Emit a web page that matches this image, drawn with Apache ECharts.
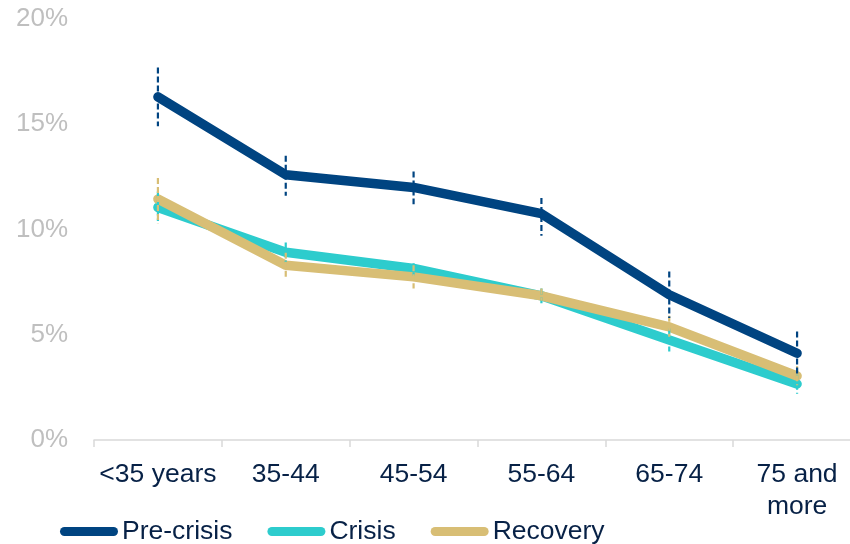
<!DOCTYPE html>
<html>
<head>
<meta charset="utf-8">
<script src="https://cdn.jsdelivr.net/npm/echarts@6/dist/echarts.min.js"></script>
<style>
html,body{margin:0;padding:0;background:#fff;overflow:hidden;width:850px;height:544px;}
#chart{width:861px;height:544px;}
</style>
</head>
<body>
<div id="chart"></div>
<script>
var categories = ['<35 years', '35-44', '45-54', '55-64', '65-74', '75 and\nmore'];
var yTicks = [0, 5, 10, 15, 20];

var preCrisis = [16.3, 12.6, 12.0, 10.75, 6.9, 4.12];
var crisis    = [11.05, 8.92, 8.15, 6.85, 4.75, 2.66];
var recovery  = [11.45, 8.3, 7.75, 6.85, 5.37, 3.04];

var preCrisisLow  = [14.9, 11.6, 11.2, 9.7, 5.8, 3.1];
var preCrisisHigh = [17.7, 13.5, 12.75, 11.5, 8.0, 5.15];
var crisisLow     = [10.4, 8.45, 7.8, 6.5, 4.2, 2.2];
var crisisHigh    = [11.8, 9.38, 8.4, 7.2, 5.3, 3.1];
var recoveryLow   = [10.3, 7.7, 7.2, 6.62, 4.9, 2.6];
var recoveryHigh  = [12.45, 8.9, 8.3, 7.2, 5.9, 3.5];

var names  = ['Pre-crisis', 'Crisis', 'Recovery'];
var colors = ['#004481', '#2DCCCD', '#D8BE75'];
var textColor = '#072146';

function errData(low, high) {
  return categories.map(function (c, i) { return [i, low[i], high[i]]; });
}

function errSeries(name, color, low, high, z) {
  return {
    type: 'custom',
    name: name + ' error',
    z: z,
    silent: true,
    data: errData(low, high),
    encode: { x: 0, y: [1, 2] },
    renderItem: function (params, api) {
      var p1 = api.coord([api.value(0), api.value(2)]);
      var p2 = api.coord([api.value(0), api.value(1)]);
      return {
        type: 'line',
        shape: { x1: p1[0], y1: p1[1], x2: p2[0], y2: p2[1] },
        style: { stroke: color, lineWidth: 2.2, lineDash: [6, 3], fill: null }
      };
    }
  };
}

function lineSeries(name, color, data) {
  return {
    type: 'line',
    name: name,
    data: data,
    showSymbol: false,
    symbol: 'none',
    z: 3,
    lineStyle: { color: color, width: 9.5, cap: 'round', join: 'round' },
    itemStyle: { color: color }
  };
}

var legendIcon = 'path://M4.5,0H53.5A4.5,4.5,0,0,1,53.5,9H4.5A4.5,4.5,0,0,1,4.5,0Z';

var chart = echarts.init(document.getElementById('chart'), null, { renderer: 'canvas' });
chart.setOption({
  animation: false,
  backgroundColor: '#ffffff',
  grid: { left: 94, top: 19, bottom: 104, right: 0, containLabel: false },
  legend: {
    data: names.map(function (n) { return { name: n, icon: legendIcon }; }),
    left: 60,
    top: 518,
    padding: 0,
    itemWidth: 58,
    itemHeight: 9,
    itemGap: 35,
    textStyle: { color: textColor, fontSize: 26.5, fontFamily: 'Liberation Sans, Arial, sans-serif', padding: [0, 0, 0, -1] }
  },
  xAxis: {
    type: 'category',
    data: categories,
    boundaryGap: true,
    axisLine: { show: true, lineStyle: { color: '#D9D9D9', width: 1.5 } },
    axisTick: { show: true, length: 7, lineStyle: { color: '#D9D9D9', width: 1.5 } },
    axisLabel: {
      color: textColor,
      fontSize: 26.5,
      fontFamily: 'Liberation Sans, Arial, sans-serif',
      margin: 19,
      lineHeight: 32,
      interval: 0
    },
    splitLine: { show: false }
  },
  yAxis: {
    type: 'value',
    min: yTicks[0],
    max: yTicks[yTicks.length - 1],
    interval: 5,
    axisLine: { show: false },
    axisTick: { show: false },
    splitLine: { show: false },
    axisLabel: {
      color: '#BFBFBF',
      fontSize: 26,
      fontFamily: 'Liberation Sans, Arial, sans-serif',
      margin: 26,
      formatter: '{value}%'
    }
  },
  series: [
    lineSeries(names[0], colors[0], preCrisis),
    lineSeries(names[1], colors[1], crisis),
    lineSeries(names[2], colors[2], recovery),
    errSeries(names[0], colors[0], preCrisisLow, preCrisisHigh, 6),
    errSeries(names[1], colors[1], crisisLow, crisisHigh, 5),
    errSeries(names[2], colors[2], recoveryLow, recoveryHigh, 5)
  ]
});
</script>
</body>
</html>
